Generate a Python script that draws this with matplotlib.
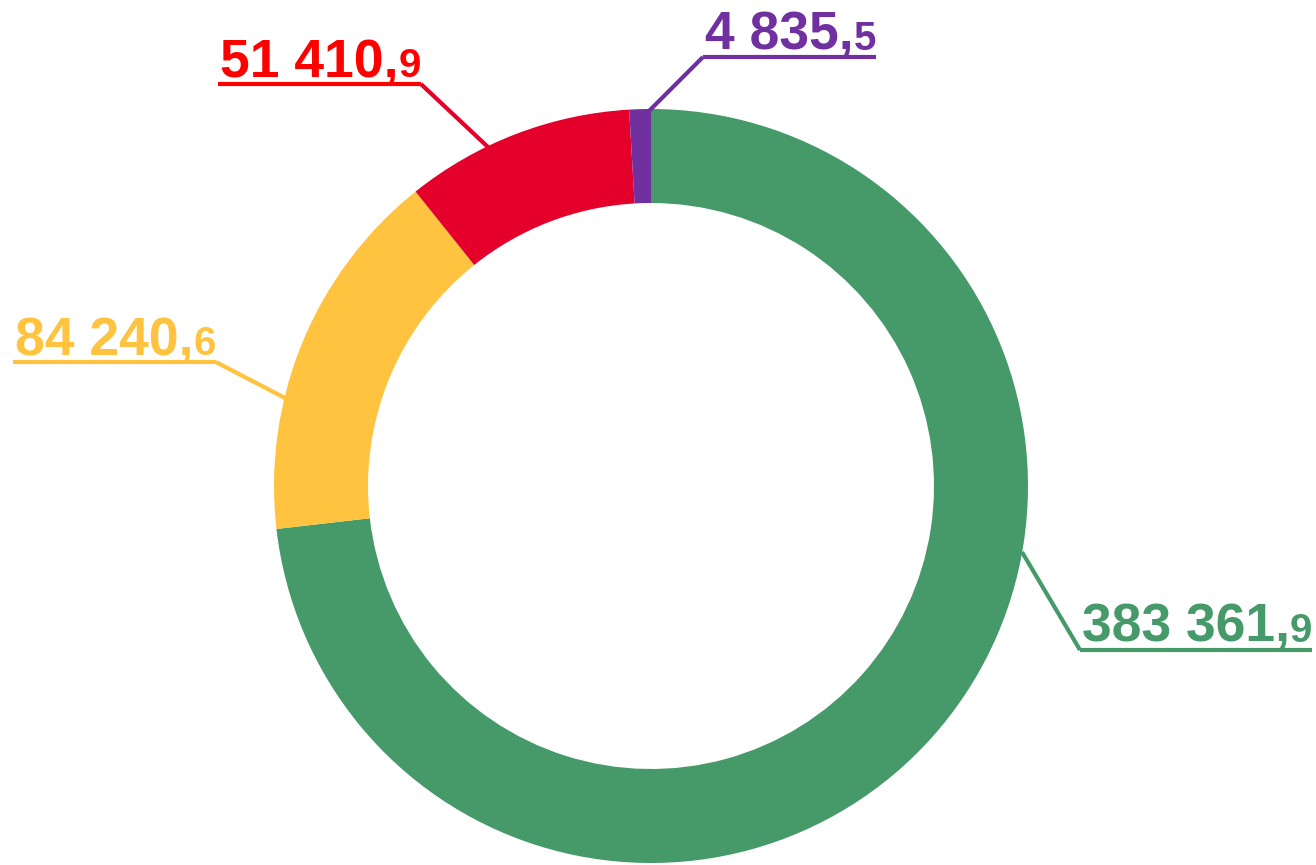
import matplotlib
matplotlib.use('Agg')
import matplotlib.pyplot as plt

# данные
values = [383361.9, 84240.6, 51410.9, 4835.5]
labels_int = ['383 361,', '84 240,', '51 410,', '4 835,']
labels_dec = ['9', '6', '9', '5']
wedge_colors = ['#469A69', '#FFC33F', '#E4002B', '#7030A0']
text_colors = ['#469A69', '#FFC33F', '#FF0000', '#7030A0']
line_colors = ['#469A69', '#FFC33F', '#E4002B', '#7030A0']

W, H = 1316, 865
plt.rcParams['font.family'] = ['Liberation Sans', 'DejaVu Sans']

fig = plt.figure(figsize=(W / 100, H / 100), dpi=100)
ax = fig.add_axes([0, 0, 1, 1])

def py(y):
    # пиксели сверху -> координаты осей
    return H - y

cx, cy, R = 651, 486, 377
ax.pie(values, colors=wedge_colors, startangle=90, counterclock=False,
       center=(cx, py(cy)), radius=R,
       wedgeprops=dict(width=94, linewidth=0))
ax.set_xlim(0, W)
ax.set_ylim(0, H)
ax.set_aspect('auto')
ax.axis('off')

# подписи: (x текста, базовая линия, линия подчёркивания, точка на кольце, сторона выноски)
label_pos = [
    (1082, 642, 650, (1022, 552), 'left'),
    (15, 355, 362, (285, 398), 'right'),
    (220, 77, 84, (489, 148), 'right'),
    (705, 50, 57, (648, 112), 'left'),
]

fig.canvas.draw()
r = fig.canvas.get_renderer()
inv = ax.transData.inverted()
for i in range(len(values)):
    x, base, uy, anchor, side = label_pos[i]
    t1 = ax.text(x, py(base), labels_int[i], fontsize=38.5, fontweight='bold',
                 color=text_colors[i], ha='left', va='baseline')
    bb = t1.get_window_extent(r)
    x1 = inv.transform((bb.x1, bb.y0))[0]
    t2 = ax.text(x1, py(base), labels_dec[i], fontsize=29, fontweight='bold',
                 color=text_colors[i], ha='left', va='baseline')
    bb2 = t2.get_window_extent(r)
    x2 = inv.transform((bb2.x1, bb2.y0))[0]
    ax.plot([x - 2, x2], [py(uy), py(uy)], color=text_colors[i], lw=3,
            solid_capstyle='butt')
    if side == 'left':
        ex = x - 2
    else:
        ex = x2
    ax.plot([anchor[0], ex], [py(anchor[1]), py(uy)], color=line_colors[i],
            lw=3, solid_capstyle='butt')

plt.savefig('out.png', dpi=100)
